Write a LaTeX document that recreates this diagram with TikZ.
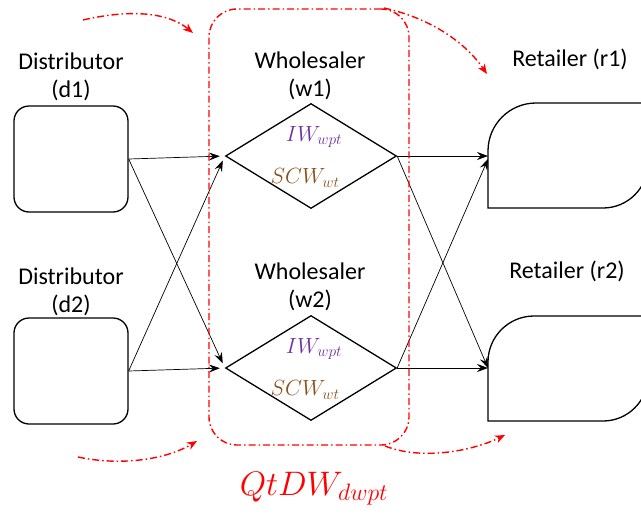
\RequirePackage{fix-cm}
\documentclass[tikz,border=0pt]{standalone}
\usepackage{fontspec}
\setmainfont{Carlito}
\usetikzlibrary{shapes.geometric,arrows.meta}
\definecolor{ivpurple}{RGB}{112,48,160}
\definecolor{scbrown}{RGB}{140,80,30}
\begin{document}
\begin{tikzpicture}[x=1pt,y=-1pt,
  lbl/.style={font=\fontsize{24}{28}\selectfont, align=center, inner sep=0pt},
  dbox/.style={draw, line width=1.3pt, rounded corners=15pt, minimum width=114pt, minimum height=106pt, inner sep=0pt},
  wdia/.style={draw, line width=1.3pt, diamond, aspect=1.63, minimum width=171pt, minimum height=105pt, inner sep=0pt},
  rarea/.style={inner sep=0pt, minimum width=160pt, minimum height=105pt},
  rshape/.style={draw, line width=1.3pt},
  conn/.style={line width=0.7pt, -{Stealth[length=11pt,width=8pt,inset=4pt]}},
  redcurve/.style={red, line width=1.4pt, dash pattern=on 7pt off 3pt on 1.5pt off 3pt, -{Stealth[length=10pt,width=8pt,inset=3pt]}},
  mlab/.style={font=\fontsize{22}{26}\selectfont, inner sep=0pt}]
\useasboundingbox (0,0) rectangle (641,517);
\clip (0,0) rectangle (641,517);

% distributors
\node[dbox] (d1) at (71,159) {};
\node[dbox] (d2) at (71,371) {};
\node[lbl] (d1t) at (71,77) {Distributor\\(d1)};
\node[lbl] (d2t) at (71,292) {Distributor\\(d2)};

% wholesalers
\node[wdia] (w1) at (311,156) {};
\node[wdia] (w2) at (311,368) {};
\node[lbl] (w1t) at (310,76) {Wholesaler\\(w1)};
\node[lbl] (w2t) at (310,287) {Wholesaler\\(w2)};
\node[mlab, text=ivpurple] (w1a) at (314,137) {$IW_{wpt}$};
\node[mlab, text=scbrown] (w1b) at (305,178) {$SCW_{wt}$};
\node[mlab, text=ivpurple] (w2a) at (314,349) {$IW_{wpt}$};
\node[mlab, text=scbrown] (w2b) at (305,390) {$SCW_{wt}$};

% retailers
\node[rarea, anchor=west] (r1) at (488,156) {};
\node[rarea, anchor=west] (r2) at (488,368) {};
\draw[rshape] (488,208) -- (488,151) arc[start angle=180, end angle=270, radius=48] -- (648,103)
  -- (648,163) arc[start angle=0, end angle=90, radius=45] -- cycle;
\draw[rshape] (488,421) -- (488,362) arc[start angle=180, end angle=270, radius=46] -- (648,316)
  -- (648,376) arc[start angle=0, end angle=90, radius=45] -- cycle;
\node[lbl, anchor=center] (r1t) at (570,59) {Retailer (r1)};
\node[lbl, anchor=center] (r2t) at (567,271) {Retailer (r2)};

% connectors
\draw[conn, shorten >=5pt] (d1.east) -- (w1.west);
\draw[conn, shorten >=5pt] (d1.east) -- (w2.west);
\draw[conn, shorten >=5pt] (d2.east) -- (w1.west);
\draw[conn, shorten >=5pt] (d2.east) -- (w2.west);
\draw[conn] (w1.east) -- (r1.west);
\draw[conn] (w1.east) -- (r2.west);
\draw[conn] (w2.east) -- ([yshift=-3pt]r1.west);
\draw[conn] (w2.east) -- (r2.west);

% red group
\node[draw=red, line width=1.4pt, dash pattern=on 7pt off 3pt on 1.5pt off 3pt, rounded corners=28pt,
  minimum width=200pt, minimum height=436pt, inner sep=0pt] (grp) at (309,227) {};
\node[inner sep=0pt, text=red, font=\fontsize{34}{38}\selectfont] (q) at (314,489) {$QtDW_{dwpt}$};

\coordinate (a1s) at (83,20);  \coordinate (a1e) at (193,33);
\coordinate (a2s) at (384,8); \coordinate (a2e) at (487,74);
\coordinate (a3s) at (78,457); \coordinate (a3e) at (197,441);
\coordinate (a4s) at (385,446);\coordinate (a4e) at (505,435);
\draw[redcurve] (a1s) .. controls (135,8) and (170,14) .. (a1e);
\draw[redcurve] (a2s) .. controls (430,18) and (465,42) .. (a2e);
\draw[redcurve] (a3s) .. controls (120,466) and (165,460) .. (a3e);
\draw[redcurve] (a4s) .. controls (420,460) and (470,452) .. (a4e);
\end{tikzpicture}
\end{document}
